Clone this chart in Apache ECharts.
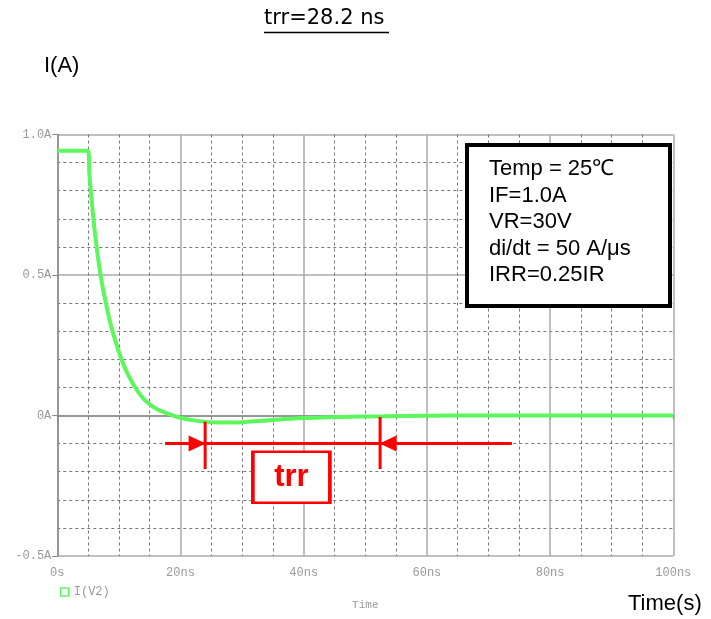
<!DOCTYPE html>
<html>
<head>
<meta charset="utf-8">
<script src="https://cdn.jsdelivr.net/npm/echarts@6/dist/echarts.min.js"></script>
<style>
  html, body { margin: 0; padding: 0; background: #fff; }
  #chart { width: 711px; height: 619px; }
</style>
</head>
<body>
<div id="chart"></div>
<script>
// reverse recovery waveform, time in ns, current in A
var timeNs = [0, 5, 5.2, 5.6, 6.0, 6.5, 7.1, 7.8, 8.6, 9.5, 10.5, 11.6, 12.8, 14.2, 16, 18, 20, 23, 26, 29, 33, 39, 46, 53, 60, 70, 80, 90, 100]
var currentA = [0.942, 0.942, 0.86, 0.76, 0.67, 0.58, 0.49, 0.41, 0.33, 0.26, 0.195, 0.14, 0.095, 0.055, 0.025, 0.006, -0.008, -0.02, -0.025, -0.025, -0.019, -0.01, -0.005, -0.003, -0.001, 0, 0, 0, 0]

// trr marker positions (data units)
var trrStart = 24
var trrEnd = 52.4
var arrowLevel = -0.1
var arrowLeftFrom = 17.5
var arrowRightTo = 73.8
var tickLeftTop = -0.022
var tickRightTop = -0.005
var tickBottom = -0.19
var trrLabelPos = [38, -0.22]

var infoLines = ['Temp = 25℃', 'IF=1.0A', 'VR=30V', 'di/dt = 50 A/μs', 'IRR=0.25IR']

var green = '#5cf75c'
var red = '#ff0000'
var monoFont = '"Liberation Mono", "DejaVu Sans Mono", monospace'

var chart = echarts.init(document.getElementById('chart'))

var wave = timeNs.map(function (t, i) { return [t, currentA[i]] })

function seg(data) {
  return {
    type: 'line',
    data: data,
    symbol: 'none',
    silent: true,
    lineStyle: { color: red, width: 3 },
    z: 5
  }
}

var infoText = infoLines.map(function (s, i) {
  return {
    type: 'text',
    x: 489,
    y: 158 + i * 26.5,
    z: 11,
    style: { text: s, font: '22px "Liberation Sans", Arial, sans-serif', fill: '#000' }
  }
})

chart.setOption({
  animation: false,
  grid: { left: 57.3, right: 37.7, top: 134.5, bottom: 63, show: false },
  legend: {
    left: 55, top: 581,
    itemWidth: 8, itemHeight: 8, itemGap: 4,
    textStyle: { fontFamily: monoFont, fontSize: 12, color: '#999' },
    data: [{ name: 'I(V2)', icon: 'rect', itemStyle: { color: '#fff', borderColor: green, borderWidth: 1.5 } }]
  },
  xAxis: {
    type: 'value', min: 0, max: 100, interval: 20,
    name: 'Time', nameLocation: 'middle', nameGap: 44,
    nameTextStyle: { fontFamily: monoFont, fontSize: 11, color: '#999' },
    axisLine: { lineStyle: { color: '#888', width: 1.5 } },
    axisTick: { show: true, length: 4, lineStyle: { color: '#888' } },
    axisLabel: {
      margin: 11, fontFamily: monoFont, fontSize: 12, color: '#999',
      formatter: function (v) { return v === 0 ? '0s' : v + 'ns' }
    },
    splitLine: { show: true, lineStyle: { color: '#aaa', width: 1.5 } },
    minorTick: { show: true, splitNumber: 4, length: 0 },
    minorSplitLine: { show: true, lineStyle: { color: '#777', type: [3, 3], width: 1 } }
  },
  yAxis: {
    type: 'value', min: -0.5, max: 1, interval: 0.5,
    axisLine: { show: true, lineStyle: { color: '#888', width: 1.5 } },
    axisTick: { show: true, length: 5, lineStyle: { color: '#888' } },
    axisLabel: {
      margin: 6, fontFamily: monoFont, fontSize: 12, color: '#999',
      formatter: function (v) { return v === 0 ? '0A' : v.toFixed(1) + 'A' }
    },
    splitLine: { show: true, lineStyle: { color: '#aaa', width: 1.5 } },
    minorTick: { show: true, splitNumber: 5, length: 0 },
    minorSplitLine: { show: true, lineStyle: { color: '#777', type: [3, 3], width: 1 } }
  },
  series: [
    {
      name: 'I(V2)',
      type: 'line',
      data: wave,
      symbol: 'none',
      smooth: 0.2,
      lineStyle: { color: green, width: 4 },
      itemStyle: { color: green },
      z: 4
    },
    seg([[arrowLeftFrom, arrowLevel], [arrowRightTo, arrowLevel]]),
    seg([[trrStart, tickLeftTop], [trrStart, tickBottom]]),
    seg([[trrEnd, tickRightTop], [trrEnd, tickBottom]]),
    {
      type: 'scatter',
      silent: true,
      z: 6,
      data: [
        { value: [trrStart, arrowLevel], symbolRotate: -90, symbolOffset: [-8, 0] },
        { value: [trrEnd, arrowLevel], symbolRotate: 90, symbolOffset: [8, 0] }
      ],
      symbol: 'triangle',
      symbolSize: [16, 17],
      itemStyle: { color: red, opacity: 1 }
    },
    {
      type: 'scatter',
      silent: true,
      z: 6,
      data: [trrLabelPos],
      symbol: 'rect',
      symbolSize: [77, 51],
      itemStyle: { color: '#fff', borderColor: red, borderWidth: 3, opacity: 1 },
      label: {
        show: true, position: 'inside', formatter: 'trr',
        color: red, fontSize: 31, fontWeight: 'bold',
        fontFamily: '"Liberation Sans", Arial, sans-serif'
      }
    }
  ],
  graphic: [
    {
      type: 'text', left: 264, top: 8,
      style: { text: 'trr=28.2 ns', font: '21px "DejaVu Sans", sans-serif', fill: '#000' }
    },
    {
      type: 'line', shape: { x1: 264, y1: 32.5, x2: 389, y2: 32.5 },
      style: { stroke: '#000', lineWidth: 1.5 }
    },
    {
      type: 'text', left: 44, top: 55,
      style: { text: 'I(A)', font: '22px "Liberation Sans", Arial, sans-serif', fill: '#000' }
    },
    {
      type: 'text', left: 628, top: 593,
      style: { text: 'Time(s)', font: '22px "Liberation Sans", Arial, sans-serif', fill: '#000' }
    },
    {
      type: 'rect', left: 465, top: 143,
      shape: { width: 203, height: 161 },
      style: { fill: '#fff', stroke: '#000', lineWidth: 4 },
      z: 10
    }
  ].concat(infoText)
})
</script>
</body>
</html>
